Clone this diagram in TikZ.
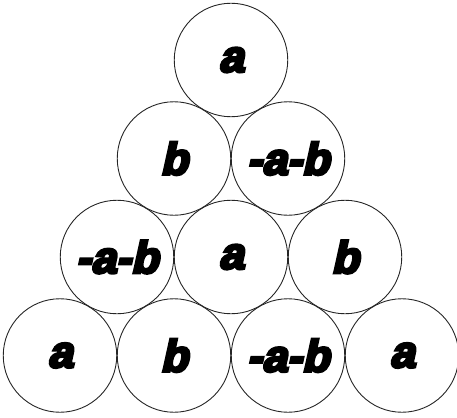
\documentclass[tikz,border=0pt]{standalone}
\usepackage{fontspec}
\setmainfont{Liberation Sans}
\newfontfamily\heavyfont[FakeBold=6,FakeSlant=0.22]{Liberation Sans Bold}
\begin{document}
\begin{tikzpicture}[x=1pt,y=-1pt,
  ball/.style={draw=black!85,line width=0.9pt,circle,minimum size=113.5pt,inner sep=0pt,
    font=\heavyfont\fontsize{45}{45}\selectfont}]
\useasboundingbox (0,0) rectangle (457,417);
\node[ball] (t)  at (231,60) {a};
\node[ball] (r2a) at (174,158.5) {b};
\node[ball] (r2b) at (288,158.5) {-a-b};
\node[ball] (r3a) at (117,257) {-a-b};
\node[ball] (r3b) at (231,257) {a};
\node[ball] (r3c) at (345,257) {b};
\node[ball] (r4a) at (60,355.5) {a};
\node[ball] (r4b) at (174,355.5) {b};
\node[ball] (r4c) at (288,355.5) {-a-b};
\node[ball] (r4d) at (402,355.5) {a};
\end{tikzpicture}
\end{document}
